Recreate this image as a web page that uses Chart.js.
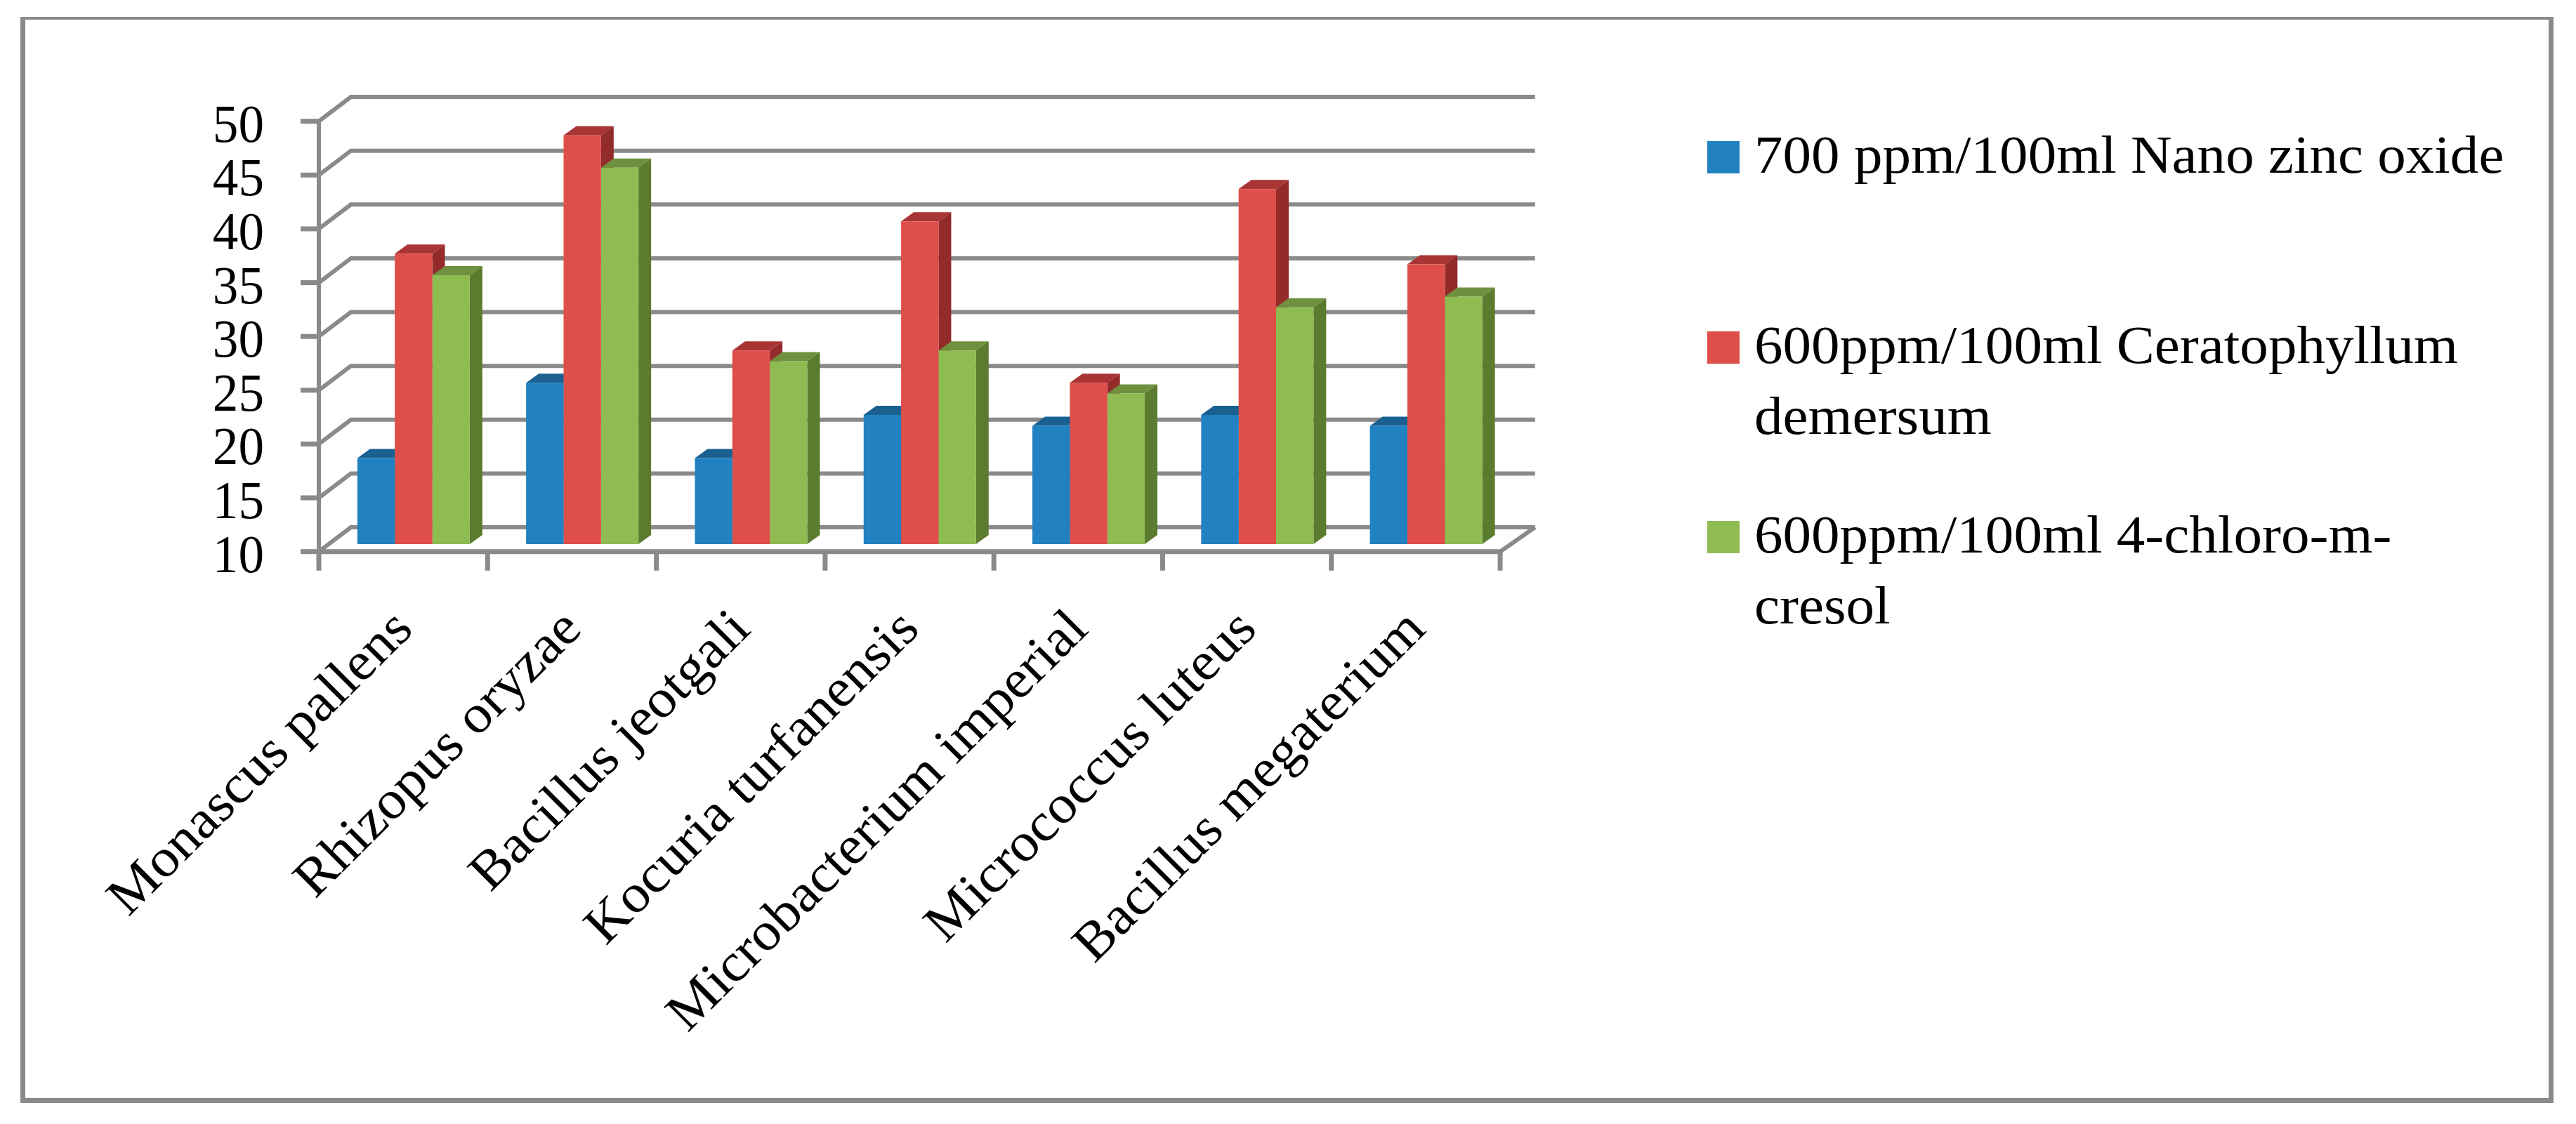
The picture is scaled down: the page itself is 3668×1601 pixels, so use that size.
<!DOCTYPE html>
<html>
<head>
<meta charset="utf-8">
<style>
  html, body { margin: 0; padding: 0; background: #fff; }
  canvas { display: block; }
</style>
<script src="https://cdn.jsdelivr.net/npm/chart.js@4"></script>
</head>
<body>
<canvas id="myChart" width="3668" height="1601"></canvas>
<script>
const categories = ["Monascus pallens", "Rhizopus oryzae", "Bacillus jeotgali", "Kocuria turfanensis",
  "Microbacterium imperial", "Micrococcus luteus", "Bacillus megaterium"];
const yTicks = [10, 15, 20, 25, 30, 35, 40, 45, 50];

const nanoZinc = [18, 25, 18, 22, 21, 22, 21];
const ceratophyllum = [37, 48, 28, 40, 25, 43, 36];
const chlorocresol = [35, 45, 27, 28, 24, 32, 33];

const seriesNames = ["700 ppm/100ml Nano zinc oxide", "600ppm/100ml Ceratophyllum demersum", "600ppm/100ml 4-chloro-m-cresol"];
// lines of the legend as they wrap in the picture
const legendLines = [["700 ppm/100ml Nano zinc oxide"], ["600ppm/100ml Ceratophyllum", "demersum"], ["600ppm/100ml 4-chloro-m-", "cresol"]];

const frontColors = ["#2181c1", "#df4f4a", "#8ebb52"];
const topColors = ["#1a6191", "#a83433", "#6f913f"];
const sideColors = ["#185a86", "#932b2b", "#5b7b2f"];

const GRAY = "#8a8a8a";
const SERIF = '"Liberation Serif"';

// draw text stretched along its own direction, the source font is wider than Times
function stretchedText(ctx, text, x, y, size, stretch, align, angle) {
  ctx.save();
  ctx.translate(x, y);
  ctx.rotate(angle || 0);
  ctx.scale(stretch, 1);
  ctx.font = size + "px " + SERIF;
  ctx.fillStyle = "#000";
  ctx.textAlign = align;
  ctx.textBaseline = "alphabetic";
  ctx.fillText(text, 0, 0);
  ctx.restore();
}

const pseudo3d = {
  id: "pseudo3d",
  beforeDatasetsDraw(chart) {
    const ctx = chart.ctx;
    const xs = chart.scales.x;
    const ys = chart.scales.y;
    const band = xs.getPixelForValue(1) - xs.getPixelForValue(0);
    const left = xs.getPixelForValue(0) - band / 2;
    const right = left + band * categories.length;
    // offsets of the front and back plane against the bars plane
    const fx = -14.7, fy = 10.7, by = -24;
    const backLeft = left + 31, backRight = right + 35;

    ctx.save();
    // outer frame, the top edge is thinner in the picture
    ctx.fillStyle = GRAY;
    ctx.fillRect(29, 24, 3607, 4);
    ctx.fillRect(29, 24, 7, 1547);
    ctx.fillRect(3629, 24, 7, 1547);
    ctx.fillRect(29, 1564, 3607, 7);

    ctx.strokeStyle = GRAY;
    ctx.lineCap = "butt";

    // walls
    ctx.lineWidth = 6;
    yTicks.forEach(v => {
      const py = ys.getPixelForValue(v);
      ctx.beginPath();
      ctx.moveTo(left + fx, py + fy);
      ctx.lineTo(backLeft, py + by);
      ctx.lineTo(backRight, py + by);
      ctx.stroke();
    });

    const yBase = ys.getPixelForValue(10);
    const yTop = ys.getPixelForValue(50);
    ctx.beginPath();
    ctx.moveTo(left + fx, yTop + fy);
    ctx.lineTo(left + fx, yBase + fy);
    ctx.moveTo(right + fx, yBase + fy);
    ctx.lineTo(backRight, yBase + by);
    ctx.stroke();

    // front axis and tick marks
    ctx.lineWidth = 7;
    yTicks.forEach(v => {
      const py = ys.getPixelForValue(v);
      ctx.beginPath();
      ctx.moveTo(left + fx - 26, py + fy);
      ctx.lineTo(left + fx, py + fy);
      ctx.stroke();
    });
    ctx.beginPath();
    ctx.moveTo(left + fx, yBase + fy);
    ctx.lineTo(right + fx, yBase + fy);
    for (let i = 0; i <= categories.length; i++) {
      ctx.moveTo(left + fx + band * i, yBase + fy);
      ctx.lineTo(left + fx + band * i, yBase + fy + 27);
    }
    ctx.stroke();

    // top and side faces of the bars, the library paints the front faces over them
    const dx = 18, dy = 13;
    categories.forEach((c, i) => {
      chart.data.datasets.forEach((ds, d) => {
        const bar = chart.getDatasetMeta(d).data[i];
        const x0 = bar.x - bar.width / 2;
        const x1 = bar.x + bar.width / 2;
        ctx.fillStyle = topColors[d];
        ctx.beginPath();
        ctx.moveTo(x0, bar.y);
        ctx.lineTo(x0 + dx, bar.y - dy);
        ctx.lineTo(x1 + dx, bar.y - dy);
        ctx.lineTo(x1, bar.y);
        ctx.fill();
        ctx.fillStyle = sideColors[d];
        ctx.beginPath();
        ctx.moveTo(x1, bar.y);
        ctx.lineTo(x1 + dx, bar.y - dy);
        ctx.lineTo(x1 + dx, yBase - dy);
        ctx.lineTo(x1, yBase);
        ctx.fill();
      });
    });
    ctx.restore();
  },
  afterDatasetsDraw(chart) {
    const ctx = chart.ctx;
    const xs = chart.scales.x;
    const ys = chart.scales.y;

    // value labels
    yTicks.forEach(v => {
      stretchedText(ctx, String(v), 376, ys.getPixelForValue(v) + 10.7 + 29, 77, 0.95, "right");
    });

    // category labels, right end hangs under the category
    categories.forEach((c, i) => {
      stretchedText(ctx, c, xs.getPixelForValue(i) + 2, 899, 77, 1.05, "right", -Math.PI / 4);
    });

    // legend
    const rows = [246, 517, 787];
    legendLines.forEach((lines, d) => {
      ctx.fillStyle = frontColors[d];
      ctx.fillRect(2431, rows[d] - 45, 46, 46);
      lines.forEach((line, l) => {
        stretchedText(ctx, line, 2498, rows[d] + l * 101, 77, 1.053, "left");
      });
    });
  }
};

const ctx = document.getElementById("myChart").getContext("2d");

const config = {
  type: "bar",
  data: {
    labels: categories,
    datasets: [
      { label: seriesNames[0], data: nanoZinc, backgroundColor: frontColors[0] },
      { label: seriesNames[1], data: ceratophyllum, backgroundColor: frontColors[1] },
      { label: seriesNames[2], data: chlorocresol, backgroundColor: frontColors[2] },
    ],
  },
  options: {
    responsive: false,
    animation: false,
    layout: {
      padding: { left: 468.7, right: 1517.2, top: 162, bottom: 826 },
    },
    plugins: {
      legend: { display: false },
      tooltip: { enabled: false },
    },
    datasets: {
      bar: {
        categoryPercentage: 160 / 240.3,
        barPercentage: 1,
        borderWidth: 0,
      },
    },
    scales: {
      x: { display: false },
      y: { display: false, min: 10, max: 50 },
    },
  },
  plugins: [pseudo3d],
};

new Chart(ctx, config);
</script>
</body>
</html>
